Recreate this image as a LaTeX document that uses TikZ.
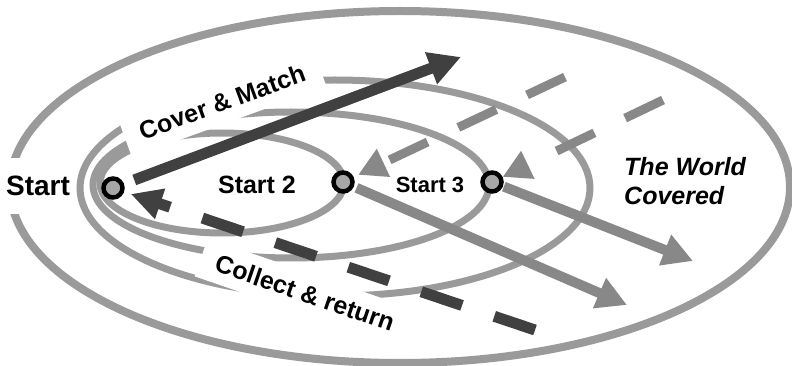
\documentclass[tikz,border=0pt]{standalone}
\usepackage{fontspec}
\setmainfont{Liberation Sans}
\usetikzlibrary{arrows.meta}
\definecolor{ell}{HTML}{9A9A9A}
\definecolor{garr}{HTML}{888888}
\definecolor{darr}{HTML}{404040}
\definecolor{dotfill}{HTML}{A6A6A6}
\begin{document}
\begin{tikzpicture}[x=1pt,y=-1pt,
  innerline/.style={draw=ell, line width=7pt},
  outerline/.style={draw=ell, line width=8pt},
  lbl/.style={font=\bfseries\fontsize{25}{28}\selectfont, inner sep=0pt},
  cutbox/.style={fill=white},
  dot/.style={circle, draw=black, line width=4.5pt, fill=dotfill, minimum size=19pt, inner sep=0pt},
  darkarrow/.style={draw=darr, line width=11pt, -{Triangle[length=32pt,width=32pt]}},
  collectarrow/.style={draw=darr, line width=11pt, dash pattern=on 43pt off 34pt, -{Triangle[length=31pt,width=30pt]}},
  grayarrow/.style={draw=garr, line width=10pt, -{Triangle[length=30pt,width=31pt]}},
  graydash/.style={draw=garr, line width=9pt, dash pattern=on 42pt off 34pt, -{Triangle[length=28pt,width=29pt]}},
]
\useasboundingbox (0,0) rectangle (792,366);
% ellipses
\draw[outerline] (400,187) ellipse [x radius=390pt, y radius=176pt];
\draw[innerline] (335,188) ellipse [x radius=255pt, y radius=108pt];
\draw[innerline] (291,185) ellipse [x radius=198pt, y radius=73pt];
\draw[innerline] (222,183) ellipse [x radius=122pt, y radius=50pt];
% labels with white backgrounds
\node[lbl, cutbox, font=\bfseries\fontsize{28}{30}\selectfont, minimum width=76pt, minimum height=56pt] (tstart) at (38,186) {Start};
\node[lbl, cutbox, rotate=20, inner xsep=16pt, inner ysep=12pt] (tcover) at (222,102) {Cover \& Match};
\node[lbl, cutbox, rotate=-19, inner xsep=16pt, inner ysep=11pt] (tcollect) at (305,293) {Collect \& return};
\node[lbl] (tstart2) at (257,185) {Start 2};
\node[lbl, font=\bfseries\fontsize{22}{26}\selectfont] (tstart3) at (430,185) {Start 3};
\node[lbl, align=left, anchor=west, font=\bfseries\itshape\fontsize{25}{29}\selectfont] (tworld) at (624,181) {The World\\Covered};
% start points
\node[dot] (s1) at (113,188) {};
\node[dot] (s2) at (343,182) {};
\node[dot] (s3) at (492,182) {};
% free ends
\coordinate (cmend) at (461,57);
\coordinate (crbeg) at (535,330);
\coordinate (e2) at (627,305);
\coordinate (e3) at (693,261);
\coordinate (d2) at (565,77);
\coordinate (d3) at (663,100);
% arrows
\draw[darkarrow, shorten <=11pt] (s1) -- (cmend);
\draw[collectarrow, shorten >=7pt] (crbeg) -- (s1);
\draw[grayarrow, shorten <=3pt] (s2) -- (e2);
\draw[grayarrow, shorten <=1pt] (s3) -- (e3);
\draw[graydash, shorten >=5pt] (d2) -- (s2);
\draw[graydash, shorten >=0pt] (d3) -- (s3);
\end{tikzpicture}
\end{document}
